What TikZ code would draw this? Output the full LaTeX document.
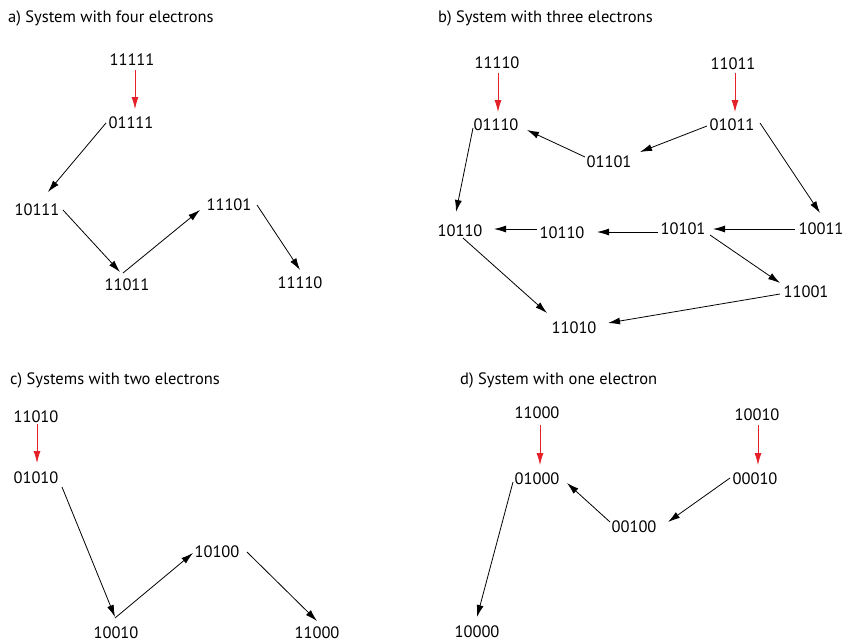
\documentclass[tikz,border=0pt]{standalone}
\usepackage{fontspec}
\setmainfont{PT Sans}
\usetikzlibrary{arrows.meta,calc}
\definecolor{redarr}{RGB}{228,32,40}
\tikzset{
  st/.style={inner sep=0pt,font=\fontsize{16.5}{19}\selectfont},
  ttl/.style={inner sep=0pt,anchor=west,font=\fontsize{16.5}{19}\selectfont},
  arr/.style={line width=0.8pt,-{Latex[length=12pt,width=7pt]}},
  rarr/.style={arr,draw=redarr,fill=redarr}
}
\begin{document}
\begin{tikzpicture}[x=1pt,y=-1pt]
\useasboundingbox (0,0) rectangle (843,643);
% ---- panel a
\node[ttl] (ta) at (8,18) {a) System with four electrons};
\node[st] (a1) at (132,60) {11111};
\node[st] (a2) at (131,123) {01111};
\node[st] (a3) at (37,210) {10111};
\node[st] (a4) at (127,285) {11011};
\node[st] (a5) at (229,205) {11101};
\node[st] (a6) at (300,283) {11110};
\draw[rarr] ($(a1)+(3,10)$) -- ($(a2)+(4,-14)$);
\draw[arr] ($(a2)+(-25,0)$) -- ($(a3)+(11,-18)$);
\draw[arr] ($(a3)+(26,0)$) -- ($(a4)+(-7,-13)$);
\draw[arr] ($(a4)+(-4,-12)$) -- ($(a5)+(-29,5)$);
\draw[arr] ($(a5)+(28,0)$) -- ($(a6)+(0,-13)$);
% ---- panel b
\node[ttl] (tb) at (438,18) {b) System with three electrons};
\node[st] (b1) at (497,63) {11110};
\node[st] (b2) at (496,125) {01110};
\node[st] (b3) at (733,64) {11011};
\node[st] (b4) at (732,125) {01011};
\node[st] (b5) at (609,162) {01101};
\node[st] (b6) at (821,229) {10011};
\node[st] (b7) at (683,229) {10101};
\node[st] (b8) at (562,233) {10110};
\node[st] (b9) at (460,231) {10110};
\node[st] (b10) at (574,328) {11010};
\node[st] (b11) at (806,292) {11001};
\draw[rarr] ($(b1)+(1,10)$) -- ($(b2)+(2,-13)$);
\draw[rarr] ($(b3)+(2,9)$) -- ($(b4)+(3,-13)$);
\draw[arr] ($(b5)+(-24,-5)$) -- ($(b2)+(31,5)$);
\draw[arr] ($(b4)+(-25,1)$) -- ($(b5)+(31,-10)$);
\draw[arr] ($(b4)+(28,-2)$) -- ($(b6)+(-1,-16)$);
\draw[arr] ($(b6)+(-26,0)$) -- ($(b7)+(30,0)$);
\draw[arr] ($(b7)+(-25,3)$) -- ($(b8)+(35,-1)$);
\draw[arr] ($(b8)+(-25,-4)$) -- ($(b9)+(34,-2)$);
\draw[arr] ($(b2)+(-23,3)$) -- ($(b9)+(-4,-19)$);
\draw[arr] ($(b9)+(3,7)$) -- ($(b10)+(-27,-15)$);
\draw[arr] ($(b7)+(27,6)$) -- ($(b11)+(-26,-9)$);
\draw[arr] ($(b11)+(-26,2)$) -- ($(b10)+(34,-5)$);
% ---- panel c
\node[ttl] (tc) at (10,380) {c) Systems with two electrons};
\node[st] (c1) at (36,417) {11010};
\node[st] (c2) at (36,478) {01010};
\node[st] (c3) at (116,633) {10010};
\node[st] (c4) at (217,552) {10100};
\node[st] (c5) at (317,633) {11000};
\draw[rarr] ($(c1)+(1,7)$) -- ($(c2)+(1,-15)$);
\draw[arr] ($(c2)+(26,9)$) -- ($(c3)+(-1,-16)$);
\draw[arr] ($(c3)+(-1,-15)$) -- ($(c4)+(-24,1)$);
\draw[arr] ($(c4)+(30,0)$) -- ($(c5)+(0,-12)$);
% ---- panel d
\node[ttl] (td) at (460,380) {d) System with one electron};
\node[st] (d1) at (537,413) {11000};
\node[st] (d2) at (537,479) {01000};
\node[st] (d3) at (757,415) {10010};
\node[st] (d4) at (755,479) {00010};
\node[st] (d5) at (634,527) {00100};
\node[st] (d6) at (477,632) {10000};
\draw[rarr] ($(d1)+(3,12)$) -- ($(d2)+(3,-14)$);
\draw[rarr] ($(d3)+(1,10)$) -- ($(d4)+(3,-14)$);
\draw[arr] ($(d4)+(-25,-1)$) -- ($(d5)+(34,-5)$);
\draw[arr] ($(d5)+(-24,-5)$) -- ($(d2)+(30,4)$);
\draw[arr] ($(d2)+(-24,3)$) -- ($(d6)+(0,-15)$);
\end{tikzpicture}
\end{document}
